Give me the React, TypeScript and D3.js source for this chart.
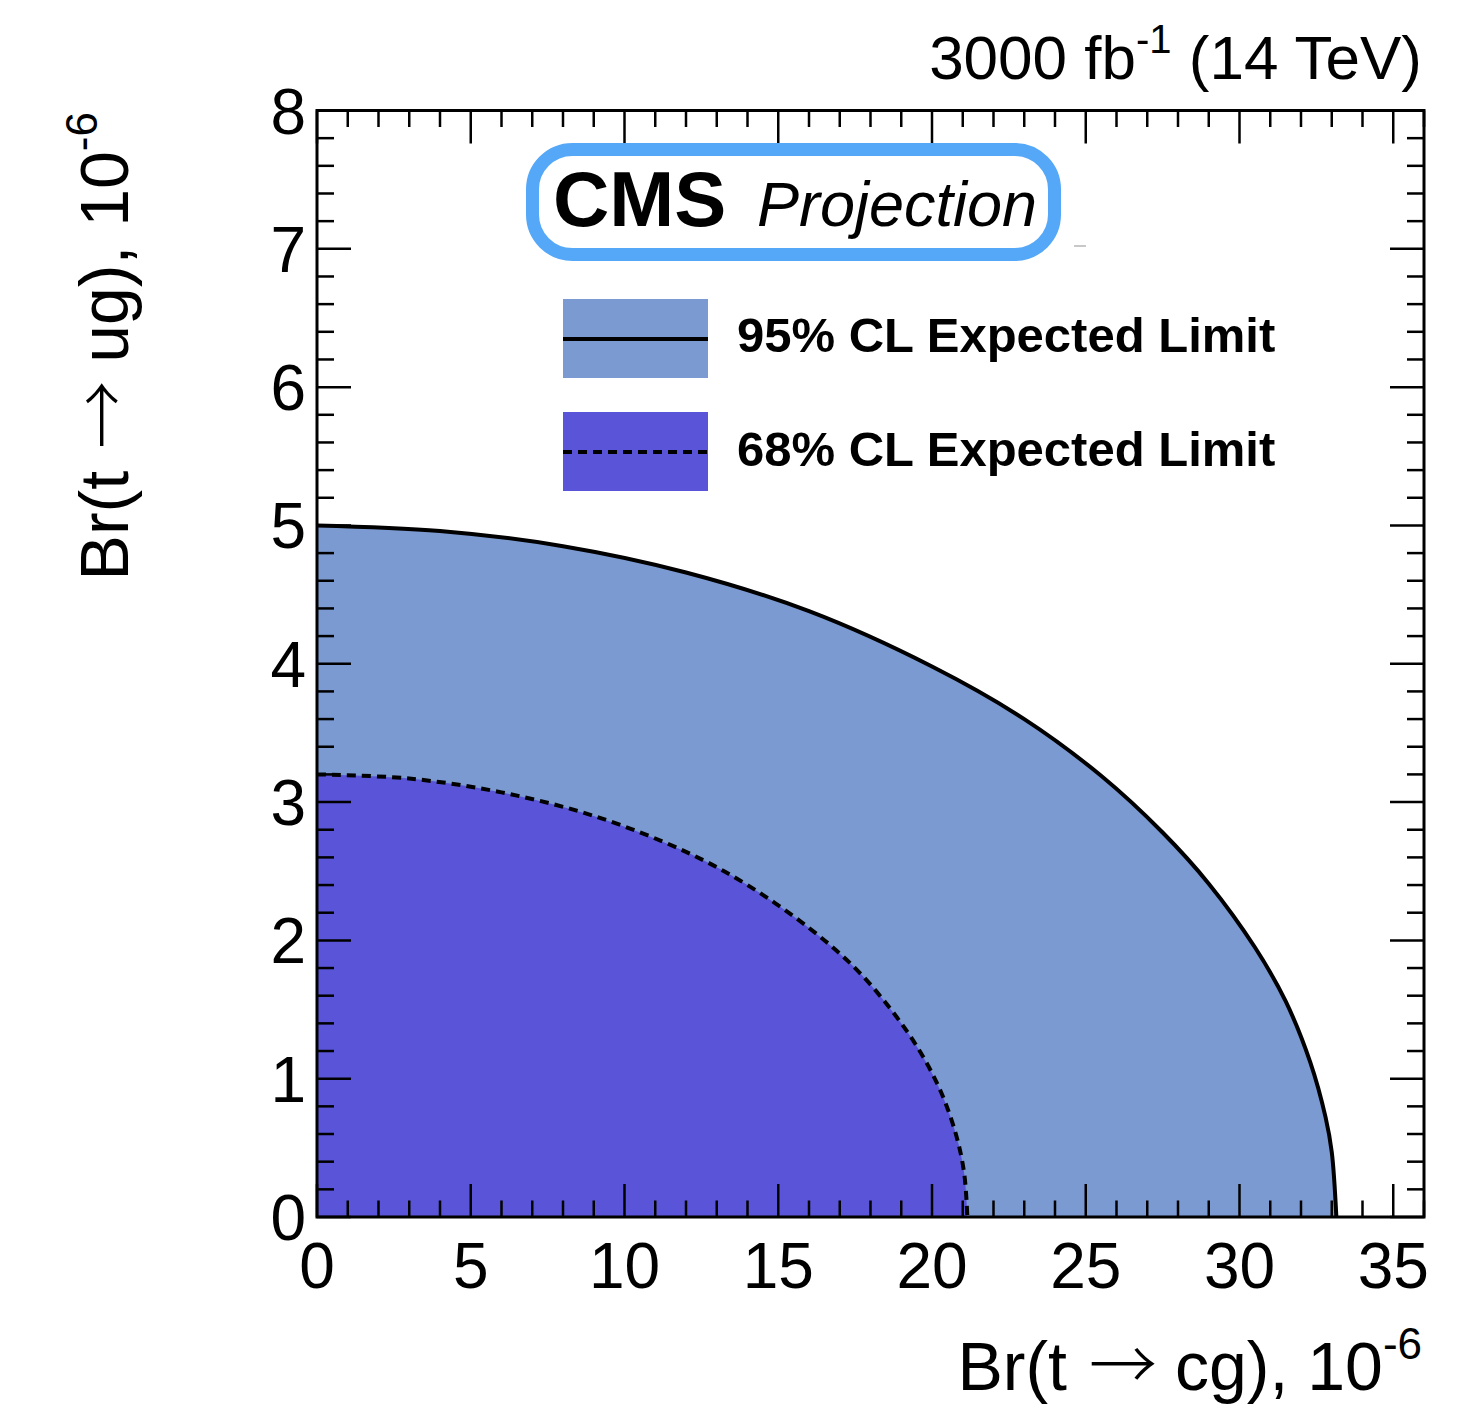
import React from "react";
import * as d3 from "d3";

// Axis ranges and tick labels
const xDomain = [0, 36];
const yDomain = [0, 8];
const xTickLabels = [0, 5, 10, 15, 20, 25, 30, 35];
const yTickLabels = [0, 1, 2, 3, 4, 5, 6, 7, 8];

// 95% CL expected limit contour: Br(t->cg) vs Br(t->ug), units of 1e-6
const cg95 = [0, 4, 8, 12, 16, 20, 23, 25.5, 27.5, 29, 30.5, 31.5, 32.3, 32.8, 33.0, 33.15];
const ug95 = [5.0, 4.96, 4.85, 4.66, 4.38, 3.98, 3.6, 3.19, 2.78, 2.41, 1.95, 1.56, 1.12, 0.72, 0.47, 0];

// 68% CL expected limit contour
const cg68 = [0, 3, 6, 9, 12, 14, 16, 17.5, 18.7, 19.6, 20.3, 20.8, 21.05, 21.15];
const ug68 = [3.2, 3.17, 3.07, 2.9, 2.64, 2.4, 2.09, 1.8, 1.49, 1.2, 0.9, 0.58, 0.31, 0];

const legendLabels = ["95% CL Expected Limit", "68% CL Expected Limit"];

const FONT = "'Liberation Sans', Arial, Helvetica, sans-serif";
const ARROW_FONT = "'Noto Sans CJK JP', 'DejaVu Sans', sans-serif";
const COLOR95 = "#7b9ad1";
const COLOR68 = "#5a55d8";
const BOX_BLUE = "#55a8f8";

function AxisTitle({ quark }: { quark: string }) {
  return (
    <>
      Br(t
      <tspan dx={22} fontFamily={ARROW_FONT} fontWeight={300}>→</tspan>
      <tspan dx={18}>{quark}), 10</tspan>
      <tspan fontSize={44} dy={-31}>-6</tspan>
    </>
  );
}

export default function App() {
  const width = 1461;
  const height = 1412;
  const x = d3.scaleLinear().domain(xDomain).range([317, 1424]);
  const y = d3.scaleLinear().domain(yDomain).range([1217, 110.5]);

  const line = d3
    .line<[number, number]>()
    .x((d) => x(d[0]))
    .y((d) => y(d[1]))
    .curve(d3.curveCatmullRom.alpha(0.5));

  const pts95: [number, number][] = cg95.map((v, i) => [v, ug95[i]]);
  const pts68: [number, number][] = cg68.map((v, i) => [v, ug68[i]]);
  const path95 = line(pts95) || "";
  const path68 = line(pts68) || "";
  const close = `L${x(0)},${y(0)}Z`;

  const [x0, x1] = x.range();
  const [yb, yt] = y.range();

  // minor ticks every 1 unit on x, every 0.2 on y
  const xMinor = d3.range(xDomain[0], xDomain[1] + 0.001, 1);
  const yMinor = d3.range(0, 41).map((i) => i * 0.2);
  const xMaj = 33, xMin = 16.5, yMaj = 34, yMin = 17;

  return (
    <svg
      width={width}
      height={height}
      style={{ position: "absolute", left: 0, top: 0, background: "#fff" }}
      fontFamily={FONT}
    >
      {/* filled regions */}
      <path d={path95 + close} fill={COLOR95} stroke="none" />
      <path d={path68 + close} fill={COLOR68} stroke="none" />
      {/* contour lines */}
      <path d={path95} fill="none" stroke="#000" strokeWidth={4} />
      <path d={path68} fill="none" stroke="#000" strokeWidth={4} strokeDasharray="9 6" />

      {/* ticks */}
      <g stroke="#000" strokeWidth={2.5}>
        {xMinor.map((v) => {
          const major = Math.abs(v % 5) < 1e-6;
          const L = major ? xMaj : xMin;
          return (
            <g key={"xt" + v}>
              <line x1={x(v)} x2={x(v)} y1={yb} y2={yb - L} />
              <line x1={x(v)} x2={x(v)} y1={yt} y2={yt + L} />
            </g>
          );
        })}
        {yMinor.map((v, i) => {
          const major = i % 5 === 0;
          const L = major ? yMaj : yMin;
          return (
            <g key={"yt" + i}>
              <line x1={x0} x2={x0 + L} y1={y(v)} y2={y(v)} />
              <line x1={x1} x2={x1 - L} y1={y(v)} y2={y(v)} />
            </g>
          );
        })}
      </g>
      {/* frame */}
      <rect x={x0} y={yt} width={x1 - x0} height={yb - yt} fill="none" stroke="#000" strokeWidth={3} />

      {/* tick labels */}
      <g fontSize={64} fill="#000">
        {xTickLabels.map((v) => (
          <text key={"xl" + v} x={x(v)} y={1288} textAnchor="middle">
            {v}
          </text>
        ))}
        {yTickLabels.map((v) => (
          <text key={"yl" + v} x={306} y={y(v)} dy="0.36em" textAnchor="end">
            {v}
          </text>
        ))}
      </g>

      {/* axis titles */}
      <text x={1422} y={1390} fontSize={68} textAnchor="end">
        <AxisTitle quark="cg" />
      </text>
      <text transform="translate(128,112) rotate(-90)" fontSize={68} textAnchor="end">
        <AxisTitle quark="ug" />
      </text>

      {/* luminosity / energy label */}
      <text x={1422} y={79} fontSize={62} textAnchor="end">
        3000 fb
        <tspan fontSize={40} dy={-26}>-1</tspan>
        <tspan dy={26}> (14 TeV)</tspan>
      </text>

      {/* CMS Projection box */}
      <rect x={532.5} y={149.5} width={522} height={105} rx={40} ry={40} fill="#fff" stroke={BOX_BLUE} strokeWidth={13} />
      <text x={553} y={226} fontSize={78} fontWeight="bold">CMS</text>
      <text x={757} y={226} fontSize={63} fontStyle="italic">Projection</text>
      <line x1={1074} x2={1086} y1={246} y2={246} stroke="#c8c8c8" strokeWidth={2} />

      {/* legend */}
      <rect x={563} y={299} width={145} height={79} fill={COLOR95} />
      <line x1={563} x2={708} y1={339} y2={339} stroke="#000" strokeWidth={4} />
      <rect x={563} y={412} width={145} height={79} fill={COLOR68} />
      <line x1={563} x2={708} y1={452} y2={452} stroke="#000" strokeWidth={4} strokeDasharray="9 6" />
      <text x={737} y={352} fontSize={49} fontWeight="bold">{legendLabels[0]}</text>
      <text x={737} y={466} fontSize={49} fontWeight="bold">{legendLabels[1]}</text>
    </svg>
  );
}
